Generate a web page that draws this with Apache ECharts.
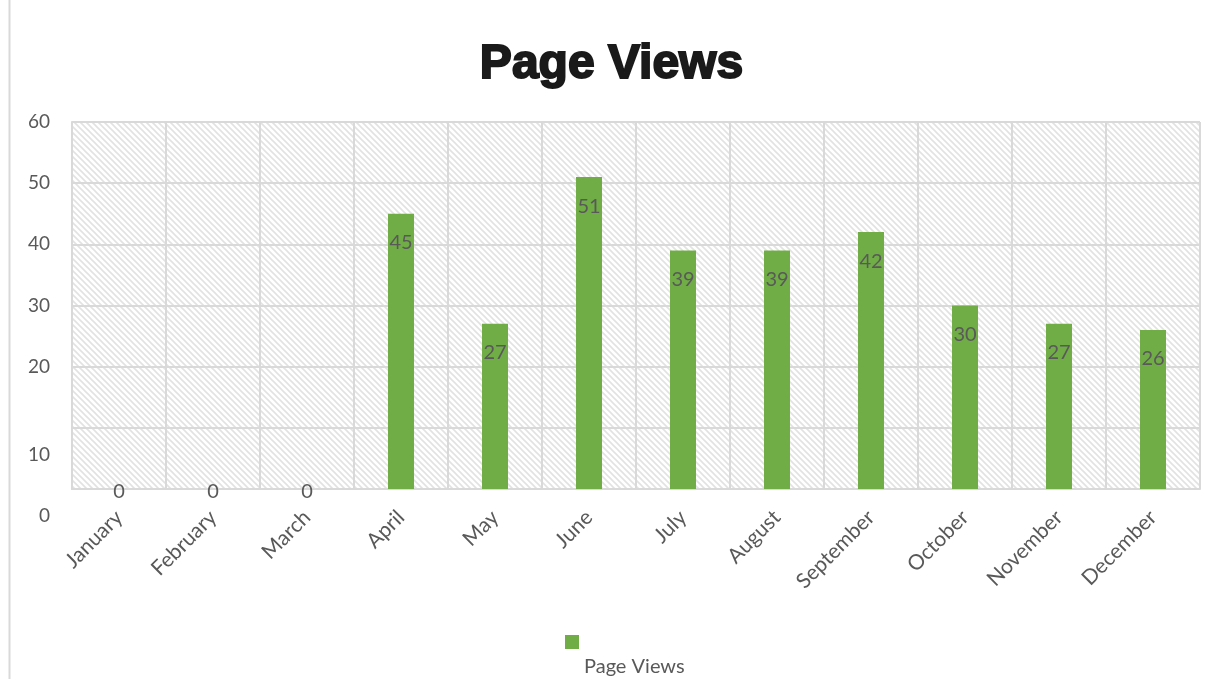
<!DOCTYPE html>
<html>
<head>
<meta charset="utf-8">
<script src="https://cdn.jsdelivr.net/npm/echarts@6/dist/echarts.min.js"></script>
<style>
  html, body { margin: 0; padding: 0; background: #fff; }
  #chart { width: 1223px; height: 679px; }
</style>
</head>
<body>
<div id="chart"></div>
<script>
var months = ['January', 'February', 'March', 'April', 'May', 'June',
  'July', 'August', 'September', 'October', 'November', 'December']
var pageViews = [0, 0, 0, 45, 27, 51, 39, 39, 42, 30, 27, 26]
var yTicks = [0, 10, 20, 30, 40, 50, 60]

// hatched background like the office chart style
function hatch() {
  var c = document.createElement('canvas')
  c.width = 6
  c.height = 6
  var ctx = c.getContext('2d')
  ctx.fillStyle = '#ffffff'
  ctx.fillRect(0, 0, 6, 6)
  ctx.strokeStyle = '#e2e2e2'
  ctx.lineWidth = 1.6
  ctx.beginPath()
  ctx.moveTo(-6, 0); ctx.lineTo(6, 12)
  ctx.moveTo(0, 0); ctx.lineTo(6, 6)
  ctx.moveTo(0, -6); ctx.lineTo(12, 6)
  ctx.stroke()
  return c
}

var chart = echarts.init(document.getElementById('chart'))
var font = 'Lato, "Open Sans", sans-serif'

var option = {
  animation: false,
  backgroundColor: '#fff',
  title: {
    text: 'Page Views',
    left: 'center',
    top: 36,
    textStyle: {
      fontFamily: '"Liberation Sans", Arial, sans-serif',
      fontWeight: 900,
      fontSize: 48,
      color: '#1a1a1a',
      textBorderColor: '#1a1a1a',
      textBorderWidth: 2
    }
  },
  graphic: [{
    type: 'line',
    shape: { x1: 9.5, y1: 0, x2: 9.5, y2: 679 },
    style: { stroke: '#d9d9d9', lineWidth: 2 }
  }],
  legend: {
    left: 560,
    top: 630,
    itemWidth: 14,
    itemHeight: 14,
    icon: 'rect',
    formatter: function (n) { return '{t|' + n + '}' },
    textStyle: {
      fontFamily: font,
      fontSize: 20,
      color: '#595959',
      rich: { t: { fontFamily: font, fontSize: 20, color: '#595959', padding: [50, 0, 0, 0] } }
    }
  },
  grid: {
    left: 72,
    right: 23,
    top: 122,
    bottom: 190,
    show: true,
    borderWidth: 0,
    backgroundColor: { image: hatch(), repeat: 'repeat' }
  },
  xAxis: {
    type: 'category',
    data: months,
    axisLine: { lineStyle: { color: '#d9d9d9', width: 2 } },
    axisTick: { show: false },
    splitLine: { show: true, lineStyle: { color: '#d9d9d9', width: 2 } },
    axisLabel: {
      rotate: 45,
      interval: 0,
      margin: 25,
      fontFamily: font,
      fontSize: 21,
      color: '#595959'
    }
  },
  yAxis: {
    type: 'value',
    min: yTicks[0],
    max: yTicks[yTicks.length - 1],
    interval: 10,
    axisLine: { show: true, lineStyle: { color: '#d9d9d9', width: 2 } },
    splitLine: { lineStyle: { color: '#d9d9d9', width: 2 } },
    axisLabel: {
      margin: 22,
      fontFamily: font,
      fontSize: 19,
      color: '#595959',
      formatter: function (v) { return v <= 10 ? '{low|' + v + '}' : String(v) },
      rich: { low: { fontFamily: font, fontSize: 19, color: '#595959', padding: [54, 0, 0, 0] } }
    }
  },
  series: [{
    name: 'Page Views',
    type: 'bar',
    barWidth: 26,
    itemStyle: { color: '#70ad47' },
    data: pageViews.map(function (v) {
      return {
        value: v,
        label: v === 0 ? { position: 'inside', offset: [0, 3] } : { position: 'insideTop', distance: 19 }
      }
    }),
    label: {
      show: true,
      fontFamily: font,
      fontSize: 20,
      color: '#595959'
    }
  }]
}

chart.setOption(option)
</script>
</body>
</html>
